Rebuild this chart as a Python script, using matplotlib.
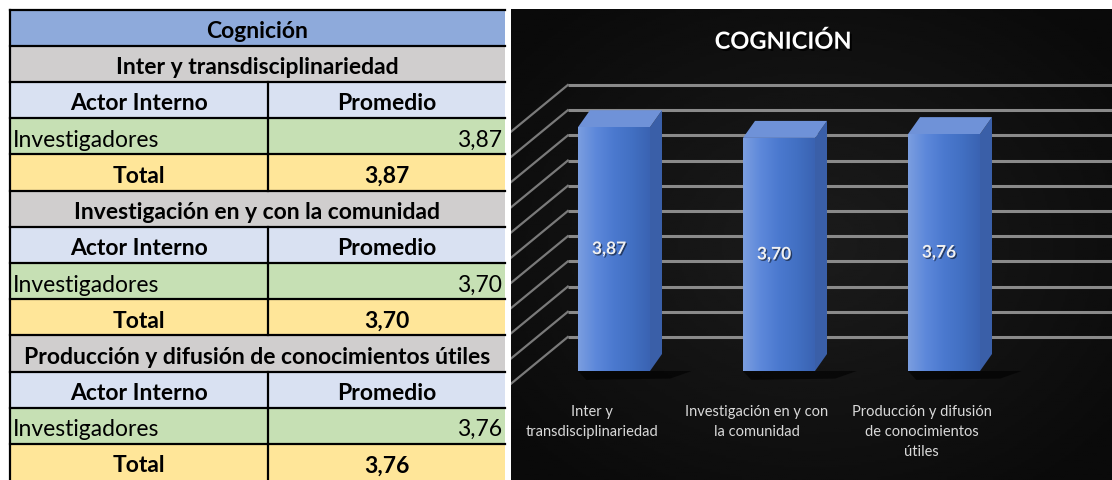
import numpy as np
import matplotlib
matplotlib.use('Agg')
import matplotlib.pyplot as plt
from matplotlib.patches import Rectangle, Polygon
from matplotlib.colors import LinearSegmentedColormap
import matplotlib.patheffects as pe

# datos
titulo = 'Cognición'
dimensiones = ['Inter y transdisciplinariedad',
               'Investigación en y con la comunidad',
               'Producción y difusión de conocimientos útiles']
etiquetas = ['Inter y\ntransdisciplinariedad',
             'Investigación en y con\nla comunidad',
             'Producción y difusión\nde conocimientos\nútiles']
actor = 'Investigadores'
promedios = [3.87, 3.70, 3.76]

W, H = 1112, 481
plt.rcParams['font.family'] = ['Lato', 'DejaVu Sans']

def fmt(v):
    return f'{v:.2f}'.replace('.', ',')

fig = plt.figure(figsize=(W / 100, H / 100), dpi=100)
fig.patch.set_facecolor('white')

# ---------- tabla (izquierda), coordenadas en pixeles ----------
ax_t = fig.add_axes([0, 0, 1, 1])
ax_t.set_xlim(0, W)
ax_t.set_ylim(H, 0)
ax_t.axis('off')

x0, x1, xm = 10, 505, 268
top, rh = 10.5, 36.2
colores = {'title': '#8eaadb', 'sec': '#d0cece', 'head': '#d9e1f2', 'data': '#c6e0b4', 'tot': '#ffe699'}

filas = [('title', titulo)]
for dim, v in zip(dimensiones, promedios):
    filas += [('sec', dim), ('head', None), ('data', v), ('tot', v)]

for i, (tipo, val) in enumerate(filas):
    y = top + i * rh
    yc = y + rh / 2 + 3
    ax_t.add_patch(Rectangle((x0, y), x1 - x0, rh, facecolor=colores[tipo], edgecolor='none'))
    ax_t.plot([x0, x1], [y, y], color='black', lw=1.6)
    kw = dict(va='center', fontsize=16.5, color='black')
    if tipo in ('title', 'sec'):
        ax_t.text((x0 + x1) / 2, yc, val, ha='center', fontweight='bold', **kw)
    else:
        ax_t.plot([xm, xm], [y, y + rh], color='black', lw=1.6)
        if tipo == 'head':
            ax_t.text((x0 + xm) / 2, yc, 'Actor Interno', ha='center', fontweight='bold', **kw)
            ax_t.text((xm + x1) / 2, yc, 'Promedio', ha='center', fontweight='bold', **kw)
        elif tipo == 'data':
            ax_t.text(x0 + 3, yc, actor, ha='left', **kw)
            ax_t.text(x1 - 3, yc, fmt(val), ha='right', **kw)
        else:
            ax_t.text((x0 + xm) / 2, yc, 'Total', ha='center', fontweight='bold', **kw)
            ax_t.text((xm + x1) / 2, yc, fmt(val), ha='center', fontweight='bold', **kw)
ax_t.plot([x0, x0], [top, H], color='black', lw=1.6)

# ---------- grafico 3D simulado (derecha) ----------
pl, ptop = 511, 10
ax = fig.add_axes([pl / W, 0, (W - pl) / W, (H - ptop) / H])
sx, sy = 165.0, 63.0          # pixeles por unidad
x_org, y_org = 614, 372       # pixel de x=0, y=0
xlim = ((pl - x_org) / sx, (W - x_org) / sx)
ylim = (-(H - y_org) / sy, (y_org - ptop) / sy)
ax.axis('off')

# fondo con degradado radial
yy, xx = np.mgrid[-1:1:200j, -1:1:300j]
r = np.clip(np.sqrt(xx ** 2 + yy ** 2) / 1.3, 0, 1)
ax.imshow(0.11 - 0.07 * r, cmap='gray', vmin=0, vmax=1, extent=[0, 1, 0, 1],
          transform=ax.transAxes, aspect='auto', zorder=0)

# pared del fondo con lineas de cuadricula
wall_x, wall_dy = -0.28, 34 / sy
diag = np.array([-62 / sx, -51 / sy]) * 1.6
for g in np.arange(0, 4.01, 0.4):
    y = g + wall_dy
    ax.plot([wall_x, xlim[1]], [y, y], color='#8a8a8a', lw=2.2, zorder=1, solid_capstyle='butt')
    ax.plot([wall_x, wall_x + diag[0]], [y, y + diag[1]], color='#7a7a7a', lw=1.6, zorder=1)

xs = np.arange(len(promedios))
w = 72 / sx
dx, dy = 12 / sx, 17 / sy

bars = ax.bar(xs, promedios, width=w, color='#4a78cc', zorder=4)
grad = np.linspace(0, 1, 256)[None, :]
cm = LinearSegmentedColormap.from_list('b', ['#7b9ee0', '#5d88da', '#4b79cf', '#4270c3', '#3a63b2'])
for x, v, b in zip(xs, promedios, bars):
    # sombra
    ax.add_patch(Polygon([(x - w / 2, 0), (x + w / 2 + dx + 0.18, 0),
                          (x + w / 2 + dx + 0.05, -0.12), (x - w / 2 + 0.05, -0.14)],
                         closed=True, facecolor='black', edgecolor='none', alpha=0.6, zorder=2))
    # cara lateral
    ax.add_patch(Polygon([(x + w / 2, 0), (x + w / 2 + dx, dy), (x + w / 2 + dx, v + dy), (x + w / 2, v)],
                         closed=True, facecolor='#3a5fa8', edgecolor='none', zorder=3))
    # cara superior
    ax.add_patch(Polygon([(x - w / 2, v), (x + w / 2, v), (x + w / 2 + dx, v + dy), (x - w / 2 + dx, v + dy)],
                         closed=True, facecolor='#6f92d8', edgecolor='none', zorder=3))
    im = ax.imshow(grad, cmap=cm, extent=[x - w / 2, x + w / 2, 0, v], aspect='auto',
                   interpolation='bilinear', zorder=5)
    im.set_clip_path(b)
    ax.text(x - 0.03, v / 2, fmt(v), ha='center', va='center', color='#f0f0f0',
            fontsize=12.5, fontweight='bold', zorder=6,
            path_effects=[pe.withSimplePatchShadow(offset=(1, -1), shadow_rgbFace='black', alpha=0.5)])

for x, lab in zip(xs, etiquetas):
    ax.text(x - 0.135, -(405 - y_org) / sy, lab, ha='center', va='top', color='#d9d9d9',
            fontsize=10.5, linespacing=1.55, zorder=6)

ax.set_xlim(*xlim)
ax.set_ylim(*ylim)

fig.text(783 / W, 1 - 42 / H, 'COGNICIÓN', ha='center', va='center', color='white',
         fontsize=17, fontweight='bold',
         path_effects=[pe.withSimplePatchShadow(offset=(1.5, -1.5), shadow_rgbFace='black', alpha=0.9)])

fig.savefig('out.png', dpi=100, facecolor='white')
